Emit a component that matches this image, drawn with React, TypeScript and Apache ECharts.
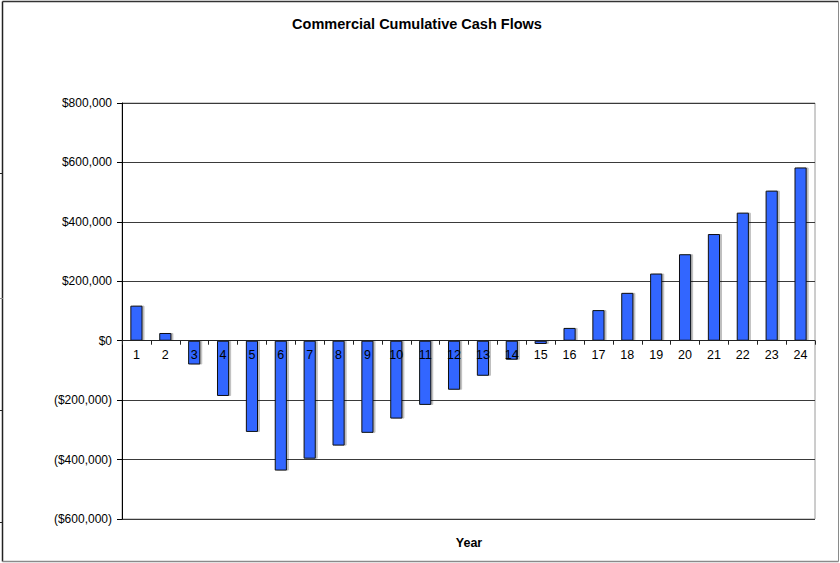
import React, { useEffect, useRef } from "react";
import * as echarts from "echarts";

// Year numbers along the category axis
const years: string[] = Array.from({ length: 24 }, (_, i) => String(i + 1));

// Cumulative cash flow per year, in dollars
const cumulativeCashFlow: number[] = [
  118000, 26000, -80000, -186000, -307000, -437000, -397000, -353000,
  -310000, -262000, -216000, -165000, -118000, -64000, -11000, 43000,
  103000, 161000, 226000, 291000, 359000, 431000, 505000, 583000,
];

// Value axis range and step
const yMin = -600000;
const yMax = 800000;
const yStep = 200000;

const FONT = "'Liberation Sans', Arial, Helvetica, sans-serif";

// plot box
const GRID_TOP = 103;
const GRID_BOTTOM = 44;
const CHART_H = 563;
const plotH = CHART_H - GRID_TOP - GRID_BOTTOM;
// shift of the category axis from the plot bottom up to the zero line
const zeroOffset = -(plotH * (0 - yMin)) / (yMax - yMin);

function money(v: number): string {
  const s = Math.abs(v)
    .toFixed(0)
    .replace(/\B(?=(\d{3})+(?!\d))/g, ",");
  if (v < 0) return "($" + s + ")";
  if (v === 0) return "$0";
  return "$" + s;
}

export default function App() {
  const ref = useRef<HTMLDivElement>(null);

  useEffect(() => {
    if (!ref.current) return;
    const chart = echarts.init(ref.current, undefined, { renderer: "svg" });

    chart.setOption({
      animation: false,
      backgroundColor: "#ffffff",
      textStyle: { fontFamily: FONT },
      grid: {
        left: 122,
        right: 25,
        top: GRID_TOP,
        bottom: GRID_BOTTOM,
        show: true,
        borderColor: "#9a9a9a",
        borderWidth: 1,
        containLabel: false,
      },
      xAxis: {
        type: "category",
        data: years,
        z: 5,
        offset: zeroOffset,
        axisLine: { onZero: false, lineStyle: { color: "#222", width: 1 } },
        axisTick: {
          show: true,
          alignWithLabel: false,
          inside: false,
          length: 4,
          lineStyle: { color: "#222" },
        },
        axisLabel: {
          margin: 8,
          interval: 0,
          fontFamily: FONT,
          fontSize: 12.5,
          color: "#000",
        },
        splitLine: { show: false },
      },
      yAxis: {
        type: "value",
        min: yMin,
        max: yMax,
        interval: yStep,
        axisLine: { show: true, lineStyle: { color: "#000", width: 1 } },
        axisTick: {
          show: true,
          inside: false,
          length: 5,
          lineStyle: { color: "#000" },
        },
        axisLabel: {
          margin: 10,
          fontFamily: FONT,
          fontSize: 12,
          color: "#000",
          formatter: (v: number) => money(v),
        },
        splitLine: { show: true, lineStyle: { color: "#3a3a3a", width: 1 } },
      },
      series: [
        {
          type: "bar",
          data: cumulativeCashFlow,
          barWidth: "42%",
          itemStyle: {
            color: "#3366ff",
            borderColor: "#111",
            borderWidth: 1,
            shadowColor: "rgba(0,0,0,0.25)",
            shadowOffsetX: 2,
            shadowOffsetY: 0,
            shadowBlur: 0,
          },
        },
      ],
      graphic: [
        {
          type: "text",
          x: 417,
          y: 24,
          style: {
            text: "Commercial Cumulative Cash Flows",
            fontFamily: FONT,
            fontSize: 14.5,
            fontWeight: "bold",
            fill: "#000",
            textAlign: "center",
            textVerticalAlign: "middle",
          },
        },
        {
          type: "text",
          x: 469,
          y: 543,
          style: {
            text: "Year",
            fontFamily: FONT,
            fontSize: 12.5,
            fontWeight: "bold",
            fill: "#000",
            textAlign: "center",
            textVerticalAlign: "middle",
          },
        },
        // chart frame
        { type: "line", shape: { x1: 2.5, y1: 1.5, x2: 838.5, y2: 1.5 }, style: { stroke: "#333", lineWidth: 1.5 } },
        { type: "line", shape: { x1: 2.5, y1: 1.5, x2: 2.5, y2: 561.5 }, style: { stroke: "#222", lineWidth: 1.5 } },
        { type: "line", shape: { x1: 838.5, y1: 1.5, x2: 838.5, y2: 561.5 }, style: { stroke: "#8a8a8a", lineWidth: 1 } },
        { type: "line", shape: { x1: 2.5, y1: 561.5, x2: 838.5, y2: 561.5 }, style: { stroke: "#8a8a8a", lineWidth: 1.5 } },
        // small marks on the frame's left edge
        { type: "line", shape: { x1: 0, y1: 173.5, x2: 3, y2: 173.5 }, style: { stroke: "#222", lineWidth: 1 } },
        { type: "line", shape: { x1: 0, y1: 298.5, x2: 3, y2: 298.5 }, style: { stroke: "#888", lineWidth: 1 } },
        { type: "line", shape: { x1: 0, y1: 410.5, x2: 3, y2: 410.5 }, style: { stroke: "#222", lineWidth: 1 } },
        { type: "line", shape: { x1: 0, y1: 522.5, x2: 3, y2: 522.5 }, style: { stroke: "#222", lineWidth: 1 } },
      ],
    });

    return () => chart.dispose();
  }, []);

  return (
    <div
      ref={ref}
      style={{ position: "fixed", left: 0, top: 0, width: 840, height: 563 }}
    />
  );
}
